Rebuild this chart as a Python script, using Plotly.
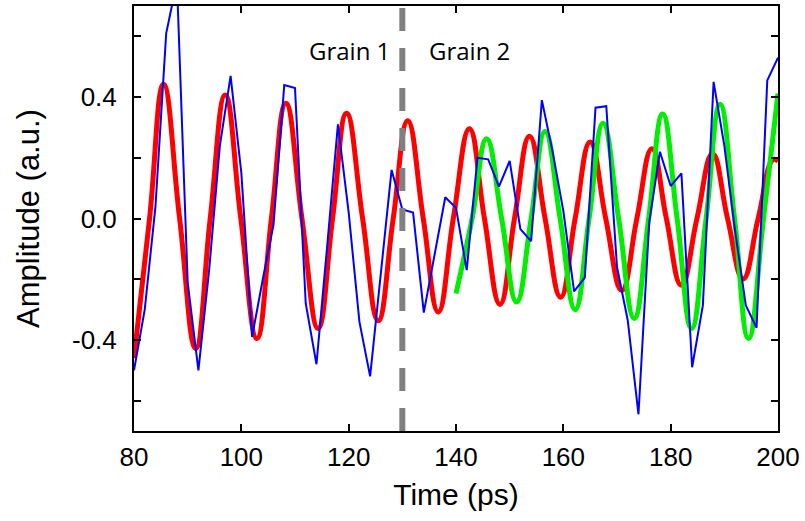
import plotly.graph_objects as go

# ---------------- data ----------------
# measured signal (blue), sampled every 2 ps
blue_t = [80, 82, 84, 86, 88, 90, 92, 94, 96, 98, 100, 102, 104, 106, 108, 110,
          112, 114, 116, 118, 120, 122, 124, 126, 128, 130, 132, 134, 136, 138,
          140, 142, 144, 146, 148, 150, 152, 154, 156, 158, 160, 162, 164, 166,
          168, 170, 172, 174, 176, 178, 180, 182, 184, 186, 188, 190, 192, 194,
          196, 198, 200]
blue_a = [-0.50, -0.30, 0.04, 0.61, 0.78, -0.21, -0.50, -0.17, 0.24, 0.47,
          0.15, -0.39, -0.20, -0.02, 0.44, 0.43, -0.28, -0.48, -0.09, 0.31,
          0.02, -0.34, -0.52, -0.17, 0.16, 0.03, 0.02, -0.31, -0.12, 0.07,
          0.035, -0.17, 0.20, 0.195, 0.105, 0.19, -0.035, -0.075, 0.39, 0.22,
          0.025, -0.24, -0.195, 0.365, 0.37, -0.16, -0.335, -0.645, -0.013, 0.22,
          0.107, 0.149, -0.49, -0.286, 0.45, 0.24, -0.04, -0.286, -0.36, 0.455,
          0.53]

# fit for grain 1 (red): extrema and zero crossings
red_t = [80, 82.9, 85.5, 88.5, 91.5, 94.2, 97.0, 99.9, 102.9, 105.6, 108.3,
         111.3, 114.3, 117.0, 119.6, 122.6, 125.5, 128.3, 131.0, 133.9, 136.7,
         139.5, 142.5, 145.3, 148.2, 150.9, 153.7, 156.6, 159.5, 162.2, 165.0,
         167.9, 170.9, 173.7, 176.5, 179.2, 182.0, 184.9, 187.8, 190.6, 193.5,
         196.3, 199.1, 200]
red_a = [-0.46, 0, 0.442, 0, -0.428, 0, 0.407, 0, -0.395, 0, 0.38,
         0, -0.362, 0, 0.347, 0, -0.337, 0, 0.322, 0, -0.308,
         0, 0.296, 0, -0.283, 0, 0.271, 0, -0.259, 0, 0.252,
         0, -0.237, 0, 0.23, 0, -0.22, 0, 0.213, 0, -0.199,
         0, 0.194, 0.188]

# fit for grain 2 (green)
green_t = [140, 143.0, 145.7, 148.5, 151.3, 154.0, 156.6, 159.4, 162.2, 164.8,
           167.4, 170.3, 173.2, 175.9, 178.5, 181.2, 183.9, 186.6, 189.2, 191.9,
           194.5, 197.3, 200]
green_a = [-0.247, 0, 0.263, 0, -0.275, 0, 0.287, 0, -0.30, 0,
           0.314, 0, -0.329, 0, 0.344, 0, -0.362, 0, 0.376, 0,
           -0.395, 0, 0.412]

boundary_t = 130
x_ticks = [80, 100, 120, 140, 160, 180, 200]
x_labels = ["80", "100", "120", "140", "160", "180", "200"]
y_ticks = [-0.4, 0.0, 0.4]
y_labels = ["-0.4", "0.0", "0.4"]
y_minor = [-0.6, -0.2, 0.2, 0.6]
labels = ["Grain 1", "Grain 2"]
label_t = [120.2, 142.6]
label_a = 0.555

# ---------------- figure ----------------
fig = go.Figure()
fig.add_trace(go.Scatter(x=red_t, y=red_a, mode="lines",
                         line=dict(color="#ff0000", width=5, shape="spline", smoothing=1.3),
                         hoverinfo="skip"))
fig.add_trace(go.Scatter(x=green_t, y=green_a, mode="lines",
                         line=dict(color="#00ee00", width=5, shape="spline", smoothing=1.3),
                         hoverinfo="skip"))
fig.add_trace(go.Scatter(x=blue_t, y=blue_a, mode="lines",
                         line=dict(color="#0000ff", width=2),
                         hoverinfo="skip"))

fig.add_shape(type="line", xref="x", yref="paper", x0=boundary_t, x1=boundary_t,
              y0=0, y1=1, line=dict(color="#808080", width=6, dash="23px,17px"),
              layer="above")

for txt, xt in zip(labels, label_t):
    fig.add_annotation(x=xt, y=label_a, xref="x", yref="y", text=txt, showarrow=False,
                       font=dict(family="Open Sans", size=24, color="black"))

tick_font = dict(family="Liberation Sans, Arial", size=26, color="black")
axis_common = dict(showline=True, linewidth=2, linecolor="black", mirror="ticks",
                   ticks="inside", ticklen=7, tickwidth=2, tickcolor="black",
                   showgrid=False, zeroline=False, tickfont=tick_font)

fig.update_xaxes(range=[80, 200], tickmode="array", tickvals=x_ticks, ticktext=x_labels,
                 ticklabelstandoff=2,
                 title=dict(text="Time (ps)", standoff=13,
                            font=dict(family="Liberation Sans, Arial", size=30, color="black")),
                 **axis_common)
fig.update_yaxes(range=[-0.7, 0.7], tickmode="array", tickvals=y_ticks, ticktext=y_labels,
                 ticklabelstandoff=10,
                 minor=dict(tickmode="array", tickvals=y_minor, ticks="inside", ticklen=7,
                            tickwidth=2, tickcolor="black"),
                 title=dict(text="Amplitude (a.u.)", standoff=23,
                            font=dict(family="Liberation Sans, Arial", size=31, color="black")),
                 **axis_common)

fig.update_layout(width=805, height=521, margin=dict(l=134, r=27, t=4, b=90),
                  paper_bgcolor="white", plot_bgcolor="white", showlegend=False)

fig.write_html("out.html", config={"displayModeBar": False},
               post_script="document.body.style.margin='0';document.body.style.overflow='hidden';")
